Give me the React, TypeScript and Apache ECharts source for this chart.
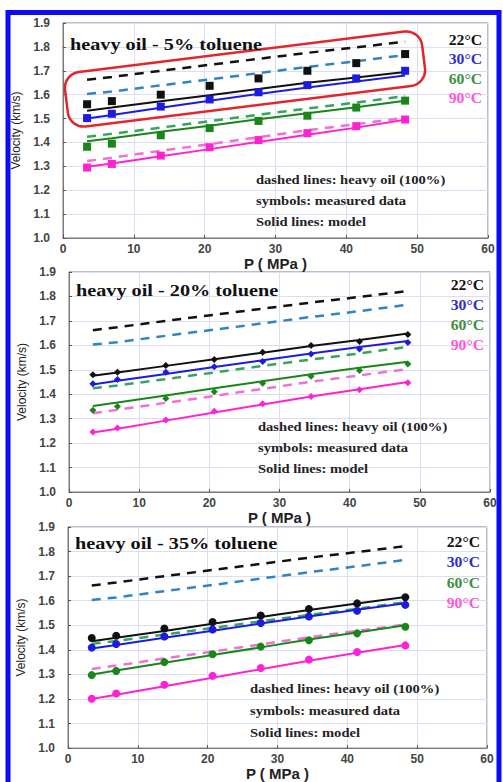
import React, { useEffect, useRef } from "react";
import * as echarts from "echarts";

// pressure of the measurements (MPa)
const pressure = [3.4, 6.9, 13.8, 20.7, 27.6, 34.5, 41.4, 48.3];
const temps = ["22°C", "30°C", "60°C", "90°C"];
const panelTitles = ["heavy oil - 5% toluene", "heavy oil - 20% toluene", "heavy oil - 35% toluene"];
const noteLines = ["dashed lines: heavy oil (100%)", "symbols: measured data", "Solid lines: model"];

// heavy oil (100%) – dashed, same in every panel
const heavyOil22 = [1.662, 1.674, 1.7, 1.725, 1.75, 1.775, 1.798, 1.822];
const heavyOil30 = [1.603, 1.613, 1.639, 1.664, 1.69, 1.716, 1.74, 1.766];
const heavyOil60 = [1.424, 1.436, 1.462, 1.489, 1.516, 1.542, 1.567, 1.594];
const heavyOil90 = [1.322, 1.336, 1.365, 1.393, 1.422, 1.451, 1.477, 1.503];

// 5% toluene
const meas5_22 = [1.56, 1.573, 1.6, 1.637, 1.668, 1.7, 1.732, 1.77];
const meas5_30 = [1.502, 1.52, 1.55, 1.58, 1.61, 1.64, 1.668, 1.7];
const meas5_60 = [1.382, 1.395, 1.43, 1.46, 1.49, 1.512, 1.546, 1.575];
const meas5_90 = [1.295, 1.31, 1.345, 1.38, 1.41, 1.439, 1.468, 1.496];
const model5_22 = [1.533, 1.546, 1.572, 1.598, 1.624, 1.65, 1.672, 1.695];
const model5_30 = [1.5, 1.515, 1.545, 1.575, 1.603, 1.63, 1.655, 1.68];
const model5_60 = [1.405, 1.418, 1.445, 1.47, 1.497, 1.522, 1.547, 1.575];
const model5_90 = [1.298, 1.312, 1.342, 1.372, 1.402, 1.432, 1.462, 1.495];

// 20% toluene
const meas20_22 = [1.48, 1.49, 1.517, 1.542, 1.572, 1.599, 1.616, 1.644];
const meas20_30 = [1.443, 1.46, 1.49, 1.512, 1.534, 1.565, 1.585, 1.612];
const meas20_60 = [1.334, 1.35, 1.382, 1.41, 1.445, 1.474, 1.497, 1.524];
const meas20_90 = [1.245, 1.262, 1.295, 1.33, 1.361, 1.391, 1.418, 1.447];
const model20_22 = [1.476, 1.489, 1.516, 1.543, 1.57, 1.597, 1.622, 1.648];
const model20_30 = [1.44, 1.455, 1.483, 1.511, 1.539, 1.567, 1.593, 1.618];
const model20_60 = [1.352, 1.366, 1.395, 1.424, 1.453, 1.482, 1.508, 1.533];
const model20_90 = [1.243, 1.259, 1.292, 1.325, 1.358, 1.391, 1.42, 1.45];

// 35% toluene
const meas35_22 = [1.448, 1.457, 1.487, 1.513, 1.54, 1.566, 1.589, 1.614];
const meas35_30 = [1.409, 1.424, 1.454, 1.483, 1.509, 1.536, 1.559, 1.583];
const meas35_60 = [1.297, 1.314, 1.35, 1.382, 1.413, 1.439, 1.467, 1.494];
const meas35_90 = [1.201, 1.222, 1.258, 1.294, 1.326, 1.36, 1.391, 1.418];
const model35_22 = [1.435, 1.449, 1.477, 1.506, 1.534, 1.562, 1.589, 1.615];
const model35_30 = [1.405, 1.42, 1.449, 1.478, 1.507, 1.536, 1.563, 1.59];
const model35_60 = [1.3, 1.316, 1.347, 1.379, 1.41, 1.442, 1.471, 1.5];
const model35_90 = [1.2, 1.217, 1.252, 1.286, 1.321, 1.356, 1.388, 1.42];

const heavyOil = [heavyOil22, heavyOil30, heavyOil60, heavyOil90];
const measured = [
  [meas5_22, meas5_30, meas5_60, meas5_90],
  [meas20_22, meas20_30, meas20_60, meas20_90],
  [meas35_22, meas35_30, meas35_60, meas35_90],
];
const model = [
  [model5_22, model5_30, model5_60, model5_90],
  [model20_22, model20_30, model20_60, model20_90],
  [model35_22, model35_30, model35_60, model35_90],
];

const solidColors = ["#111111", "#1c1ce0", "#1a861a", "#ff22d2"];
const dashColors = ["#111111", "#2f84c4", "#35a45c", "#f070d6"];
const labelColors = ["#111111", "#2e2ed0", "#3d8f3d", "#ff55e0"];
const symbols = ["rect", "diamond", "circle"];
const symbolSizes = [8, 7, 8];

const grids = [
  { left: 63, top: 23, width: 425, height: 215 },
  { left: 69, top: 272, width: 421, height: 220 },
  { left: 68, top: 527, width: 419, height: 228 },
];
const titlePos = [[70, 44], [76, 290], [75, 543]];
const tempPos = [[482, 40, 19.5], [484, 285, 20], [480, 542, 20.5]];
const notePos = [[256, 180, 21], [258, 427, 20.8], [250, 689, 22]];

const serif = "'Liberation Serif', 'Times New Roman', serif";
const sans = "'Liberation Sans', Arial, sans-serif";

function pairs(ys: number[]) {
  return ys.map((y, i) => [pressure[i], y]);
}

export default function App() {
  const ref = useRef<HTMLDivElement>(null);
  useEffect(() => {
    if (!ref.current) return;
    const chart = echarts.init(ref.current, null, { renderer: "svg" });

    const series: any[] = [];
    for (let p = 0; p < 3; p++) {
      for (let t = 0; t < 4; t++) {
        series.push({
          type: "line",
          xAxisIndex: p,
          yAxisIndex: p,
          data: pairs(heavyOil[t]),
          showSymbol: false,
          symbol: "none",
          lineStyle: { color: dashColors[t], width: 2.5, type: [9, 7] },
          z: 2,
        });
      }
      for (let t = 0; t < 4; t++) {
        series.push({
          type: "line",
          xAxisIndex: p,
          yAxisIndex: p,
          data: pairs(model[p][t]),
          showSymbol: false,
          symbol: "none",
          lineStyle: { color: solidColors[t], width: 2 },
          z: 3,
        });
      }
      for (let t = 0; t < 4; t++) {
        series.push({
          type: "scatter",
          xAxisIndex: p,
          yAxisIndex: p,
          data: pairs(measured[p][t]),
          symbol: symbols[p],
          symbolSize: symbolSizes[p],
          itemStyle: { color: solidColors[t], opacity: 1 },
          z: 4,
        });
      }
    }

    const graphic: any[] = [];
    // blue outer frame
    graphic.push({
      type: "rect",
      shape: { x: 8, y: 12.5, width: 491, height: 790 },
      style: { fill: "none", stroke: "#0b0bf5", lineWidth: 5 },
      z: 100,
    });
    // red highlight box in first panel
    graphic.push({
      type: "rect",
      x: 245,
      y: 79,
      rotation: 0.123,
      shape: { x: -180, y: -27.5, width: 360, height: 55, r: 16 },
      style: { fill: "none", stroke: "#e3262b", lineWidth: 2.5 },
      z: 100,
    });
    for (let p = 0; p < 3; p++) {
      graphic.push({
        type: "text",
        x: titlePos[p][0],
        y: titlePos[p][1],
        scaleX: 1.19,
        style: {
          text: panelTitles[p],
          fill: "#111",
          font: `bold 17px ${serif}`,
          textAlign: "left",
          textVerticalAlign: "middle",
          align: "left",
          verticalAlign: "middle",
        },
        z: 100,
      });
      for (let t = 0; t < 4; t++) {
        graphic.push({
          type: "text",
          x: tempPos[p][0],
          y: tempPos[p][1] + t * tempPos[p][2],
          scaleX: 1.12,
          style: {
            text: temps[t],
            fill: labelColors[t],
            font: `bold 14px ${serif}`,
            textAlign: "right",
            textVerticalAlign: "middle",
            align: "right",
            verticalAlign: "middle",
          },
          z: 100,
        });
      }
      for (let n = 0; n < 3; n++) {
        graphic.push({
          type: "text",
          x: notePos[p][0],
          y: notePos[p][1] + n * notePos[p][2],
          scaleX: 1.12,
          style: {
            text: noteLines[n],
            fill: "#222",
            font: `bold 13px ${serif}`,
            textAlign: "left",
            textVerticalAlign: "middle",
            align: "left",
            verticalAlign: "middle",
          },
          z: 100,
        });
      }
    }

    const axisLabelStyle = { color: "#444", fontWeight: "bold" as const, fontSize: 12, fontFamily: sans };

    chart.setOption({
      animation: false,
      backgroundColor: "#ffffff",
      grid: grids.map((g) => ({ ...g, show: true, borderColor: "#7a7a7a", borderWidth: 1, backgroundColor: "#fff" })),
      xAxis: grids.map((_, i) => ({
        type: "value",
        gridIndex: i,
        min: 0,
        max: 60,
        interval: 10,
        name: "P ( MPa )",
        nameLocation: "middle",
        nameGap: 17,
        nameTextStyle: { color: "#222", fontWeight: "bold", fontSize: 15, fontFamily: sans },
        axisLine: { show: true, lineStyle: { color: "#7a7a7a", width: 1 } },
        axisTick: { show: true, inside: true, length: 3, lineStyle: { color: "#555" } },
        axisLabel: { ...axisLabelStyle, margin: 5 },
        splitLine: { show: true, lineStyle: { color: "#dcdcf2", width: 1 } },
      })),
      yAxis: grids.map((_, i) => ({
        type: "value",
        gridIndex: i,
        min: 1.0,
        max: 1.9,
        interval: 0.1,
        name: "Velocity (km/s)",
        nameLocation: "middle",
        nameRotate: 90,
        nameGap: 38,
        nameTextStyle: { color: "#222", fontSize: 12, fontFamily: sans },
        axisLine: { show: true, lineStyle: { color: "#7a7a7a", width: 1 } },
        axisTick: { show: true, inside: true, length: 3, lineStyle: { color: "#555" } },
        axisLabel: { ...axisLabelStyle, margin: 13, formatter: (v: number) => v.toFixed(1) },
        splitLine: { show: true, lineStyle: { color: "#dcdcf2", width: 1 } },
      })),
      series,
      graphic,
    });
    return () => chart.dispose();
  }, []);

  return (
    <div
      ref={ref}
      style={{ position: "absolute", left: 0, top: 0, width: 503, height: 782, background: "#fff" }}
    />
  );
}
